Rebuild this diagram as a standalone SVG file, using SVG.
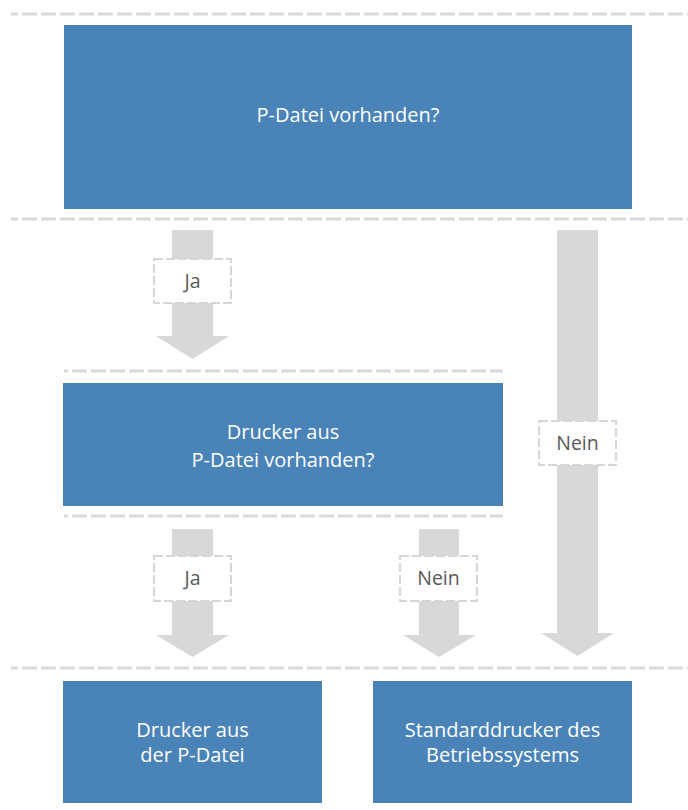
<svg xmlns="http://www.w3.org/2000/svg" width="688" height="810" viewBox="0 0 688 810">
  <style>
    .node { fill: #4a83b7; }
    .node-text { fill: #ffffff; font-family: "Open Sans", "Noto Sans", sans-serif; font-size: 20px; text-anchor: middle; }
    .sep { stroke: #dadada; stroke-width: 3; stroke-dasharray: 15 4; fill: none; }
    .arrow { fill: #d9d7d8; }
    .tag { fill: #ffffff; stroke: #d6d6d6; stroke-width: 2; stroke-dasharray: 9 3; }
    .tag-text { fill: #595959; font-family: "Open Sans", "Noto Sans", sans-serif; font-size: 19.5px; text-anchor: middle; }
  </style>

  <!-- dashed row separators -->
  <g id="separators">
    <line class="sep" x1="11" y1="14" x2="688" y2="14" stroke-dashoffset="8"/>
    <line class="sep" x1="11" y1="219" x2="688" y2="219" stroke-dashoffset="8"/>
    <line class="sep" x1="64" y1="371" x2="503" y2="371" stroke-dashoffset="11"/>
    <line class="sep" x1="64" y1="516" x2="503" y2="516" stroke-dashoffset="11"/>
    <line class="sep" x1="11" y1="668" x2="688" y2="668" stroke-dashoffset="8"/>
  </g>

  <!-- connectors: block arrows with labels -->
  <g id="connectors">
    <g id="edge-ja-1">
      <polygon class="arrow" points="172,230 213,230 213,336 229,336 192.5,359 156,336 172,336"/>
      <rect class="tag" x="154" y="259" width="77" height="44"/>
      <text class="tag-text" x="192.5" y="288">Ja</text>
    </g>
    <g id="edge-nein-1">
      <polygon class="arrow" points="557,230 598,230 598,633 614,633 577.5,656 541,633 557,633"/>
      <rect class="tag" x="539" y="421" width="77" height="44"/>
      <text class="tag-text" x="577.5" y="450">Nein</text>
    </g>
    <g id="edge-ja-2">
      <polygon class="arrow" points="172,529 213,529 213,635 229,635 192.5,657 156,635 172,635"/>
      <rect class="tag" x="154" y="556" width="77" height="45"/>
      <text class="tag-text" x="192.5" y="585">Ja</text>
    </g>
    <g id="edge-nein-2">
      <polygon class="arrow" points="419,529 459,529 459,635 476,635 439,657 403,635 419,635"/>
      <rect class="tag" x="400" y="556" width="77" height="45"/>
      <text class="tag-text" x="438.5" y="585">Nein</text>
    </g>
  </g>

  <g id="node-p-datei">
    <rect class="node" x="64" y="25" width="568" height="184"/>
    <text class="node-text" x="348" y="122">P-Datei vorhanden?</text>
  </g>

  <g id="node-drucker-p-datei">
    <rect class="node" x="63" y="383" width="440" height="123"/>
    <text class="node-text" x="283" y="439">Drucker aus</text>
    <text class="node-text" x="283" y="467">P-Datei vorhanden?</text>
  </g>

  <g id="node-drucker-aus">
    <rect class="node" x="63" y="681" width="259" height="122"/>
    <text class="node-text" x="192.5" y="737">Drucker aus</text>
    <text class="node-text" x="192.5" y="762">der P-Datei</text>
  </g>

  <g id="node-standard">
    <rect class="node" x="373" y="681" width="259" height="122"/>
    <text class="node-text" x="502.5" y="737">Standarddrucker des</text>
    <text class="node-text" x="502.5" y="762">Betriebssystems</text>
  </g>
</svg>
